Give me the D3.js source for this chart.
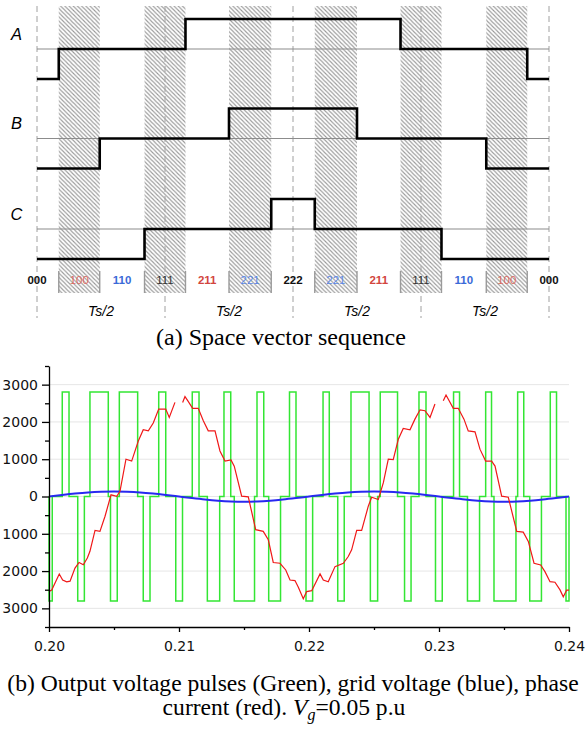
<!DOCTYPE html>
<html><head><meta charset="utf-8">
<script src="https://cdn.jsdelivr.net/npm/d3@7/dist/d3.min.js"></script>
<style>body{margin:0;background:#fff}svg{display:block}</style>
</head><body><svg id="c" width="587" height="732"></svg>
<script>
// ===== (a) Space vector sequence data =====
const seqVectors = ["000","100","110","111","211","221","222","221","211","111","110","100","000"];
const switchTimes = [0.17,0.49,0.84,1.16,1.5,1.83,2.17,2.5,2.84,3.16,3.51,3.83]; // units of Ts/2
const hatched = [false,true,false,true,false,true,false,true,false,true,false,true,false];
const phaseNames = ["A","B","C"];
const halfEdges = [0,1,2,3,4];
const halfLabels = ["Ts/2","Ts/2","Ts/2","Ts/2"];

// ===== (b) waveform data =====
const xTicks = [0.20,0.21,0.22,0.23,0.24];
const xMinorTicks = [0.205,0.215,0.225,0.235];
const yTicks = [-3000,-2000,-1000,0,1000,2000,3000];
const yTickLabels = ["3000","2000","1000","0","1000","2000","3000"]; // as printed (minus signs cropped in the source)
const yMinorTicks = [-3500,-2500,-1500,-500,500,1500,2500,3500];
const pulseLevel = 2800;
const pulseHigh = [[0.20102,0.20154],[0.20315,0.20456],[0.20541,0.20682],[0.20844,0.20898],[0.21102,0.21154],[0.21346,0.21398],[0.21600,0.21652],[0.21850,0.21900],[0.22108,0.22156],[0.22323,0.22462],[0.22548,0.22681],[0.22846,0.22900],[0.23112,0.23158],[0.23359,0.23404],[0.23605,0.23652],[0.23856,0.23904]];
const pulseLow = [[0.20000,0.20025],[0.20221,0.20272],[0.20473,0.20525],[0.20725,0.20777],[0.20975,0.21027],[0.21218,0.21313],[0.21425,0.21581],[0.21690,0.21781],[0.21977,0.22028],[0.22221,0.22271],[0.22472,0.22528],[0.22735,0.22785],[0.22973,0.23025],[0.23219,0.23312],[0.23423,0.23592],[0.23698,0.23788],[0.23977,0.24000]];
const gridV = [0,42,80,110,128,135,128,110,80,42,0,-43,-82,-113,-133,-140,-133,-113,-82,-43,0,42,80,110,128,135,128,110,80,42,0,-43,-82,-113,-133,-140,-133,-113,-82,-43,0];
const currentT = [0.20000,0.20021,0.20079,0.20105,0.20136,0.20162,0.20200,0.20231,0.20264,0.20295,0.20315,0.20354,0.20392,0.20431,0.20477,0.20521,0.20546,0.20592,0.20636,0.20687,0.20725,0.20764,0.20802,0.20844,0.20898,0.20925,0.20969,0.20999,0.21028,0.21046,0.21067,0.21105,0.21148,0.21187,0.21225,0.21277,0.21315,0.21354,0.21400,0.21425,0.21482,0.21533,0.21590,0.21648,0.21687,0.21725,0.21777,0.21821,0.21854,0.21892,0.21918,0.21956,0.21982,0.22021,0.22085,0.22110,0.22148,0.22200,0.22264,0.22302,0.22328,0.22367,0.22405,0.22456,0.22482,0.22533,0.22572,0.22610,0.22648,0.22687,0.22725,0.22777,0.22815,0.22854,0.22892,0.22931,0.22969,0.23000,0.23033,0.23054,0.23110,0.23148,0.23192,0.23225,0.23277,0.23315,0.23359,0.23405,0.23431,0.23482,0.23533,0.23598,0.23648,0.23687,0.23731,0.23782,0.23815,0.23854,0.23892,0.23931,0.23956,0.23982,0.24000];
const currentV = [-2550,-2510,-2080,-2240,-2290,-2270,-1920,-1770,-1830,-1650,-1470,-910,-935,-530,45,5,140,1000,950,1490,1790,1760,1970,2345,2345,2120,2525,null,2520,2680,2570,2365,2365,2030,1760,1760,1220,950,980,815,10,-10,-890,-935,-1160,-1770,-1790,-1970,-2240,-2255,-2435,-2745,-2550,-2525,-2075,-2240,-2285,-1880,-1790,-1610,-1430,-910,-910,-260,-20,-80,370,1000,990,1535,1825,1790,2075,2325,2300,2120,2480,null,2570,2720,2365,2365,2075,1760,1735,1270,950,950,815,10,-20,-935,-955,-1205,-1790,-1835,-2015,-2285,-2300,-2505,-2690,-2510,-2510];

const svg = d3.select("#c");
const sans = "'Liberation Sans', Arial, sans-serif";
const serif = "'Liberation Serif', 'Times New Roman', serif";

// ---------- Part (a) ----------
const u = d3.scaleLinear().domain([0,4]).range([37,549]);
const phaseMid = [49,138.5,229];
const lvl = d3.scaleLinear().domain([0,1,2]).range([30,0,-30]);
const bounds = [0, ...switchTimes, 4];

const defs = svg.append("defs");
const pat = defs.append("pattern").attr("id","hatch").attr("patternUnits","userSpaceOnUse")
  .attr("width",4.2).attr("height",4.2);
pat.append("path").attr("d","M0,0 L4.2,4.2 M-1,3.2 L1,5.2 M3.2,-1 L5.2,1")
  .attr("stroke","#9a9a9a").attr("stroke-width",1.1);

const segs = seqVectors.map((v,i)=>({v, i, t0:bounds[i], t1:bounds[i+1], h:hatched[i]}));
const gA = svg.append("g");
gA.selectAll("rect.h").data(segs.filter(d=>d.h)).join("rect")
  .attr("x",d=>u(d.t0)).attr("width",d=>u(d.t1)-u(d.t0))
  .attr("y",6).attr("height",287).attr("fill","url(#hatch)");
segs.filter(d=>d.h).forEach(d=>{
  [d.t0,d.t1].forEach(t=>{
    gA.append("line").attr("x1",u(t)).attr("x2",u(t)).attr("y1",271).attr("y2",293)
      .attr("stroke","#9a9a9a").attr("stroke-width",1.4);
  });
});
gA.selectAll("line.d").data(halfEdges).join("line")
  .attr("x1",d=>u(d)).attr("x2",d=>u(d)).attr("y1",6).attr("y2",318)
  .attr("stroke","#a0a0a0").attr("stroke-width",1).attr("stroke-dasharray","6,4");
gA.selectAll("line.m").data(phaseMid).join("line")
  .attr("x1",u(0)).attr("x2",u(4)).attr("y1",d=>d).attr("y2",d=>d)
  .attr("stroke","#8c8c8c").attr("stroke-width",1.2);
phaseNames.forEach((p,k)=>{
  const pts = segs.map(s=>[s.t0, +s.v[k]]);
  pts.push([4, +seqVectors[seqVectors.length-1][k]]);
  const line = d3.line().x(d=>u(d[0])).y(d=>phaseMid[k]+lvl(d[1])).curve(d3.curveStepAfter);
  gA.append("path").attr("d",line(pts)).attr("fill","none").attr("stroke","#000")
    .attr("stroke-width",2.6);
  gA.append("text").attr("x",16.5).attr("y",phaseMid[k]-9.5).attr("text-anchor","middle")
    .attr("font-family",sans).attr("font-style","italic").attr("font-size",16.5).text(p);
});
const colorOf = v => (v==="100"||v==="211") ? "#d2453e" : (v==="110"||v==="221") ? "#3a6ad8" : "#111";
gA.selectAll("text.v").data(segs).join("text")
  .attr("x",(d,i)=> (i===0) ? u(0) : (i===segs.length-1) ? u(4) : (u(d.t0)+u(d.t1))/2)
  .attr("y",284.3).attr("text-anchor","middle").attr("font-family",sans)
  .attr("font-size",11.5).attr("font-weight",d=>d.h?"normal":"bold")
  .attr("fill",d=> d.h ? (d.v==="111" ? "#333" : (colorOf(d.v)==="#d2453e" ? "#dc6a63" : "#5a86e6")) : colorOf(d.v))
  .text(d=>d.v);
gA.selectAll("text.t").data(halfLabels).join("text")
  .attr("x",(d,i)=>(u(halfEdges[i])+u(halfEdges[i+1]))/2).attr("y",316)
  .attr("text-anchor","middle").attr("font-family",sans).attr("font-style","italic")
  .attr("font-size",14).text(d=>d);
svg.append("text").attr("x",281).attr("y",345).attr("text-anchor","middle")
  .attr("font-family",serif).attr("font-size",24).text("(a) Space vector sequence");

// ---------- Part (b) ----------
const x = d3.scaleLinear().domain([0.20,0.24]).range([49,569]);
const y = d3.scaleLinear().domain([-3500,3500]).range([627,366]);
const gB = svg.append("g");
gB.selectAll("line.g").data(yTicks).join("line")
  .attr("x1",x(0.20)).attr("x2",x(0.24)).attr("y1",d=>y(d)).attr("y2",d=>y(d))
  .attr("stroke","#e6e6e6").attr("stroke-width",1);

const pulses = pulseHigh.map(p=>({t0:p[0],t1:p[1],v:pulseLevel}))
  .concat(pulseLow.map(p=>({t0:p[0],t1:p[1],v:-pulseLevel})))
  .sort((a,b)=>a.t0-b.t0);
const gPts = [];
pulses.forEach(p=>{ gPts.push([p.t0,0],[p.t0,p.v],[p.t1,p.v],[p.t1,0]); });
const lineXY = d3.line().x(d=>x(d[0])).y(d=>y(d[1]));
gB.append("path").attr("d",lineXY(gPts)).attr("fill","none").attr("stroke","#33e633")
  .attr("stroke-width",1.5);

const gridPts = gridV.map((v,i)=>[xTicks[0]+i*0.001, v]);
gB.append("path").attr("d",d3.line().x(d=>x(d[0])).y(d=>y(d[1])).curve(d3.curveMonotoneX)(gridPts))
  .attr("fill","none").attr("stroke","#2828f0").attr("stroke-width",2);

const curPts = currentT.map((t,i)=>[t,currentV[i]]);
gB.append("path").attr("d",d3.line().defined(d=>d[1]!==null).x(d=>x(d[0])).y(d=>y(d[1]))(curPts))
  .attr("fill","none").attr("stroke","#f01818").attr("stroke-width",1.2);

const axL = d3.axisLeft(y).tickValues(yTicks).tickSize(7).tickPadding(4).tickSizeOuter(0)
  .tickFormat((d,i)=>yTickLabels[i]);
const gy = gB.append("g").attr("transform",`translate(${x(0.20)},0)`).call(axL);
gy.append("g").call(d3.axisLeft(y).tickValues(yMinorTicks).tickSize(4).tickFormat("").tickSizeOuter(0))
  .select(".domain").remove();
const axB = d3.axisBottom(x).tickValues(xTicks).tickSize(5).tickPadding(9).tickFormat(d3.format(".2f")).tickSizeOuter(0);
const gx = gB.append("g").attr("transform",`translate(0,${y(-3500)})`).call(axB);
gx.append("g").call(d3.axisBottom(x).tickValues(xMinorTicks).tickSize(3).tickFormat("").tickSizeOuter(0))
  .select(".domain").remove();
[gy,gx].forEach(g=>{
  g.selectAll("text").attr("font-family","'DejaVu Sans', Verdana, sans-serif").attr("font-size",14).attr("fill","#111");
  g.selectAll("path,line").attr("stroke","#000").attr("stroke-width",1.3);
});

svg.append("text").attr("x",293).attr("y",691).attr("text-anchor","middle")
  .attr("font-family",serif).attr("font-size",23.6)
  .text("(b) Output voltage pulses (Green), grid voltage (blue), phase");
const cap2 = svg.append("text").attr("x",284).attr("y",715).attr("text-anchor","middle")
  .attr("font-family",serif).attr("font-size",23.6);
cap2.append("tspan").text("current (red). ");
cap2.append("tspan").attr("font-style","italic").text("V");
cap2.append("tspan").attr("font-style","italic").attr("font-size",16).attr("dy",5).text("g");
cap2.append("tspan").attr("dy",-5).text("=0.05 p.u");
</script></body></html>
